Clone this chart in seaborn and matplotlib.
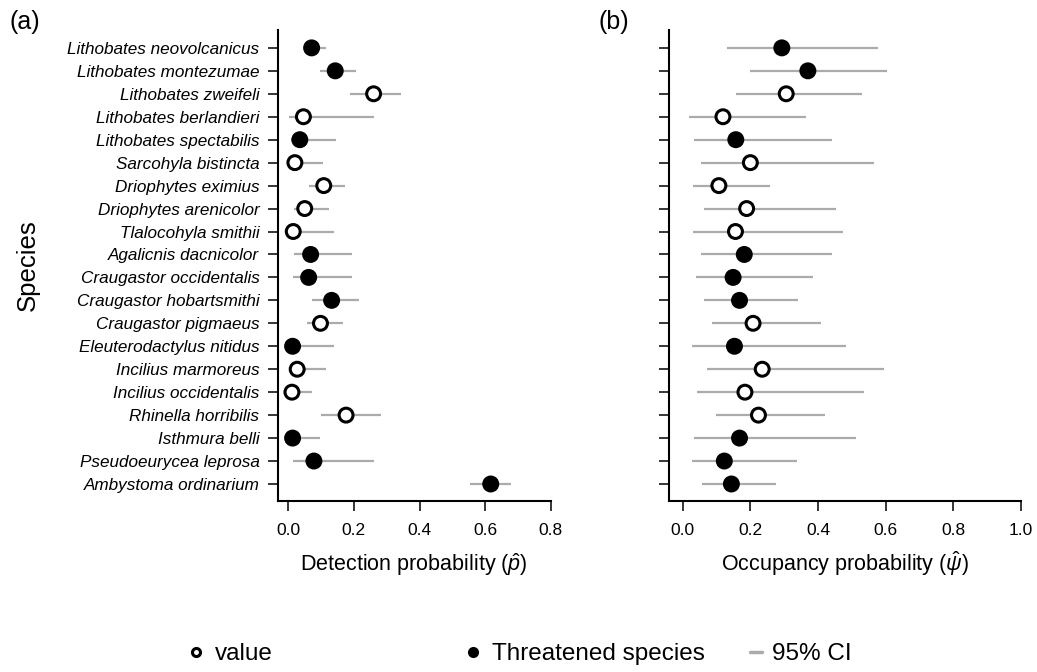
import numpy as np
import pandas as pd
import matplotlib
matplotlib.use('Agg')
import matplotlib.pyplot as plt
import seaborn as sns
from matplotlib.lines import Line2D

# species, top to bottom
species = ['Lithobates neovolcanicus', 'Lithobates montezumae', 'Lithobates zweifeli',
           'Lithobates berlandieri', 'Lithobates spectabilis', 'Sarcohyla bistincta',
           'Driophytes eximius', 'Driophytes arenicolor', 'Tlalocohyla smithii',
           'Agalicnis dacnicolor', 'Craugastor occidentalis', 'Craugastor hobartsmithi',
           'Craugastor pigmaeus', 'Eleuterodactylus nitidus', 'Incilius marmoreus',
           'Incilius occidentalis', 'Rhinella horribilis', 'Isthmura belli',
           'Pseudoeurycea leprosa', 'Ambystoma ordinarium']
threatened = [1, 1, 0, 0, 1, 0, 0, 0, 0, 1, 1, 1, 0, 1, 0, 0, 0, 1, 1, 1]

# detection probability (p-hat) and 95% CI
p_est = [0.071, 0.143, 0.260, 0.046, 0.035, 0.020, 0.108, 0.050, 0.015, 0.068,
         0.062, 0.132, 0.098, 0.013, 0.027, 0.011, 0.176, 0.013, 0.078, 0.617]
p_lo = [0.050, 0.096, 0.188, 0.003, 0.007, 0.005, 0.062, 0.018, 0.003, 0.016,
        0.014, 0.072, 0.056, 0.002, 0.006, 0.002, 0.101, 0.003, 0.014, 0.555]
p_hi = [0.114, 0.205, 0.345, 0.260, 0.144, 0.105, 0.172, 0.125, 0.140, 0.193,
        0.193, 0.216, 0.166, 0.138, 0.114, 0.072, 0.284, 0.098, 0.260, 0.678]

# occupancy probability (psi-hat) and 95% CI
psi_est = [0.293, 0.370, 0.306, 0.119, 0.157, 0.200, 0.107, 0.189, 0.156, 0.182,
           0.149, 0.168, 0.208, 0.153, 0.235, 0.184, 0.224, 0.168, 0.123, 0.144]
psi_lo = [0.131, 0.199, 0.157, 0.020, 0.034, 0.053, 0.030, 0.064, 0.030, 0.055,
          0.039, 0.064, 0.088, 0.027, 0.073, 0.041, 0.099, 0.032, 0.027, 0.058]
psi_hi = [0.578, 0.603, 0.531, 0.364, 0.442, 0.565, 0.258, 0.452, 0.474, 0.442,
          0.386, 0.340, 0.410, 0.482, 0.596, 0.536, 0.420, 0.512, 0.338, 0.277]

sns.set_theme(style='ticks')
plt.rcParams['font.family'] = ['Liberation Sans', 'DejaVu Sans']
plt.rcParams['text.color'] = 'black'
plt.rcParams['mathtext.fontset'] = 'custom'
plt.rcParams['mathtext.rm'] = 'Liberation Sans'
plt.rcParams['mathtext.it'] = 'Liberation Sans:italic'

df = pd.DataFrame({'species': species,
                   'status': ['Threatened' if t else 'Other' for t in threatened],
                   'p': p_est, 'p_lo': p_lo, 'p_hi': p_hi,
                   'psi': psi_est, 'psi_lo': psi_lo, 'psi_hi': psi_hi})

GREY = '#ababab'
fig = plt.figure(figsize=(10.37, 6.72), dpi=100)
ax1 = fig.add_axes([0.2676, 0.2545, 0.2635, 0.7009])
ax2 = fig.add_axes([0.6456, 0.2545, 0.3390, 0.7009])


def panel(ax, est, lo, hi, xmin, xmax, xlabel):
    ax.hlines(df['species'], df[lo], df[hi], color=GREY, lw=1.6, zorder=1)
    sns.scatterplot(data=df, x=est, y='species', hue='status',
                    palette={'Threatened': 'black', 'Other': 'white'},
                    edgecolor='black', linewidth=2.2, s=100, legend=False,
                    zorder=3, ax=ax)
    ax.set_ylim(len(species) - 1 + 0.74, -0.78)
    ax.set_xlim(xmin, xmax)
    ticks = np.arange(0, xmax + 0.001, 0.2)
    ax.set_xticks(ticks)
    ax.set_xticklabels([f'{t:.1f}' for t in ticks])
    ax.set_ylabel('')
    ax.set_xlabel(xlabel, fontsize=15.5, color='black')
    ax.xaxis.set_label_coords(0.5, -0.1486)
    ax.xaxis.label.set_va('baseline')
    sns.despine(ax=ax)
    for s in ['left', 'bottom']:
        ax.spines[s].set_color('black')
        ax.spines[s].set_linewidth(1.5)
    ax.tick_params(axis='both', direction='out', length=7, width=1.1,
                   color='black', labelsize=12.5, labelcolor='black')
    ax.tick_params(axis='x', pad=9)
    ax.tick_params(axis='y', pad=6)


panel(ax1, 'p', 'p_lo', 'p_hi', -0.033, 0.8, r'Detection probability ($\hat{p}$)')
panel(ax2, 'psi', 'psi_lo', 'psi_hi', -0.039, 1.0, r'Occupancy probability ($\hat{\psi}$)')

for lab in ax1.get_yticklabels():
    lab.set_fontstyle('italic')
    lab.set_fontsize(12.3)
ax2.tick_params(axis='y', labelleft=False)

fig.text(28 / 1037, 1 - 265 / 672, 'Species', rotation=90, ha='center', va='center', fontsize=18.5)
fig.text(25 / 1037, 1 - 22 / 672, '(a)', ha='center', va='center', fontsize=18)
fig.text(614 / 1037, 1 - 22 / 672, '(b)', ha='center', va='center', fontsize=18)

# bottom legend, three separate items
h_open = Line2D([], [], ls='none', marker='o', mfc='white', mec='black', mew=2.2, ms=5.8)
h_fill = Line2D([], [], ls='none', marker='o', mfc='black', mec='black', mew=0, ms=8)
h_ci = Line2D([], [], color=GREY, lw=2.5)
ly = 1 - 654 / 672
for h, lab, x0, hl in [(h_open, 'value', 186, 0.8),
                       (h_fill, 'Threatened species', 463, 0.8),
                       (h_ci, '95% CI', 750, 0.5)]:
    fig.legend(handles=[h], labels=[lab], loc='center left',
               bbox_to_anchor=(x0 / 1037, ly), frameon=False, fontsize=17.5,
               handlelength=hl, handletextpad=0.4, borderpad=0, borderaxespad=0)

fig.savefig('out.png', dpi=100)
